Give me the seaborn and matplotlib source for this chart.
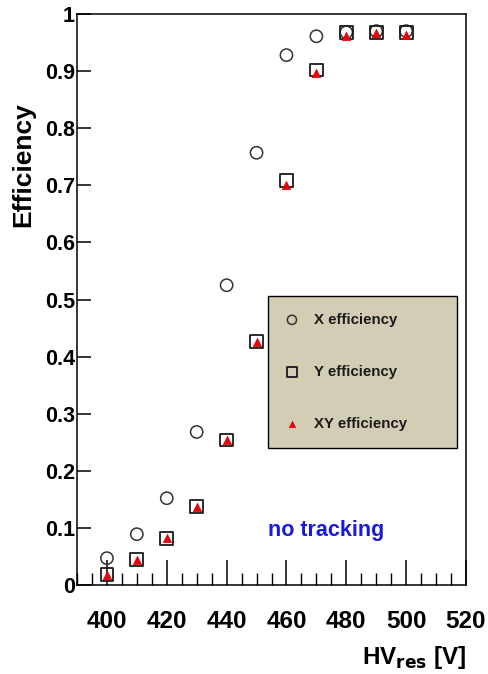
import matplotlib
matplotlib.use("Agg")
import matplotlib.pyplot as plt
from matplotlib.ticker import MultipleLocator
import seaborn as sns
import pandas as pd

# High-voltage scan of the resistive layer
hv = [400, 410, 420, 430, 440, 450, 460, 470, 480, 490, 500]
x_eff = [0.047, 0.089, 0.152, 0.268, 0.525, 0.757, 0.928, 0.961, 0.968, 0.970, 0.970]
y_eff = [0.019, 0.044, 0.082, 0.137, 0.254, 0.427, 0.708, 0.902, 0.967, 0.968, 0.968]
xy_eff = [0.017, 0.043, 0.082, 0.136, 0.254, 0.426, 0.701, 0.897, 0.961, 0.966, 0.964]
series = ["X efficiency", "Y efficiency", "XY efficiency"]
y_ticks = [0, 0.1, 0.2, 0.3, 0.4, 0.5, 0.6, 0.7, 0.8, 0.9, 1.0]
y_tick_labels = ["0", "0.1", "0.2", "0.3", "0.4", "0.5", "0.6", "0.7", "0.8", "0.9", "1"]

df = pd.concat([
    pd.DataFrame({"HV": hv, "eff": vals, "series": name})
    for name, vals in zip(series, [x_eff, y_eff, xy_eff])
], ignore_index=True)

sns.set_theme(style="white")
plt.rcParams["font.family"] = ["Liberation Sans", "DejaVu Sans"]
plt.rcParams["font.weight"] = "bold"
plt.rcParams["text.color"] = "black"
plt.rcParams["axes.labelcolor"] = "black"
plt.rcParams["xtick.color"] = "black"
plt.rcParams["ytick.color"] = "black"
plt.rcParams["mathtext.default"] = "bf"

fig = plt.figure(figsize=(4.89, 6.74), dpi=100)
ax = fig.add_axes([77 / 489, 1 - 585 / 674, (466 - 77) / 489, (585 - 14) / 674])

styles = {
    "X efficiency": dict(marker="o", s=78, facecolor="none", edgecolor="#333333", linewidth=1.1),
    "Y efficiency": dict(marker="s", s=85, facecolor="none", edgecolor="#1a1a1a", linewidth=1.3),
    "XY efficiency": dict(marker="^", s=36, color="#e8000b", edgecolor="#e8000b", linewidth=0.5),
}
for name in series:
    sns.scatterplot(data=df[df["series"] == name], x="HV", y="eff", ax=ax,
                    label=name, zorder=3, **styles[name])

ax.set_xlim(390, 520)
ax.set_ylim(0, 1)
ax.xaxis.set_major_locator(MultipleLocator(20))
ax.xaxis.set_minor_locator(MultipleLocator(5))
ax.tick_params(axis="both", which="both", direction="in",
               bottom=True, left=True, top=False, right=False)
ax.tick_params(axis="x", which="major", length=18, width=1.1, labelsize=17.5, pad=18)
ax.tick_params(axis="x", which="minor", length=9, width=1.0)
ax.tick_params(axis="y", which="major", length=10, width=1.1, labelsize=15.5, pad=1.5)
ax.set_yticks(y_ticks)
ax.set_yticklabels(y_tick_labels)
for lab in ax.get_xticklabels() + ax.get_yticklabels():
    lab.set_fontweight("bold")
    lab.set_color("black")
for sp in ax.spines.values():
    sp.set_color("black")
    sp.set_linewidth(1.1)

ax.set_xlabel(r"HV$_{\mathbf{res}}$ [V]", fontsize=17.5, fontweight="bold")
ax.xaxis.set_label_coords(1.0, -0.127)
ax.xaxis.label.set_horizontalalignment("right")
ax.xaxis.label.set_verticalalignment("center")
ax.set_ylabel("Efficiency", fontsize=19, fontweight="bold")
ax.yaxis.set_label_coords(-0.137, 0.736)
ax.yaxis.label.set_verticalalignment("center")

leg = ax.legend(loc="upper left",
                bbox_to_anchor=((268 - 77) / 389, 0.0, (457 - 268) / 389, 1 - (296 - 14) / 571),
                mode="expand", frameon=True, fancybox=False, fontsize=10.8,
                labelspacing=2.55, borderpad=1.12, handlelength=0.95, handletextpad=1.0,
                borderaxespad=0, markerscale=0.75)
frame = leg.get_frame()
frame.set_facecolor("#d3cdb5")
frame.set_edgecolor("black")
frame.set_linewidth(1.0)
frame.set_alpha(1)
for t in leg.get_texts():
    t.set_fontweight("bold")
    t.set_color("#1a1a1a")

ax.text(453.8, 0.096, "no tracking", color="#1a1adc", fontsize=15.5, fontweight="bold",
        ha="left", va="center")

fig.savefig("out.png", dpi=100)
